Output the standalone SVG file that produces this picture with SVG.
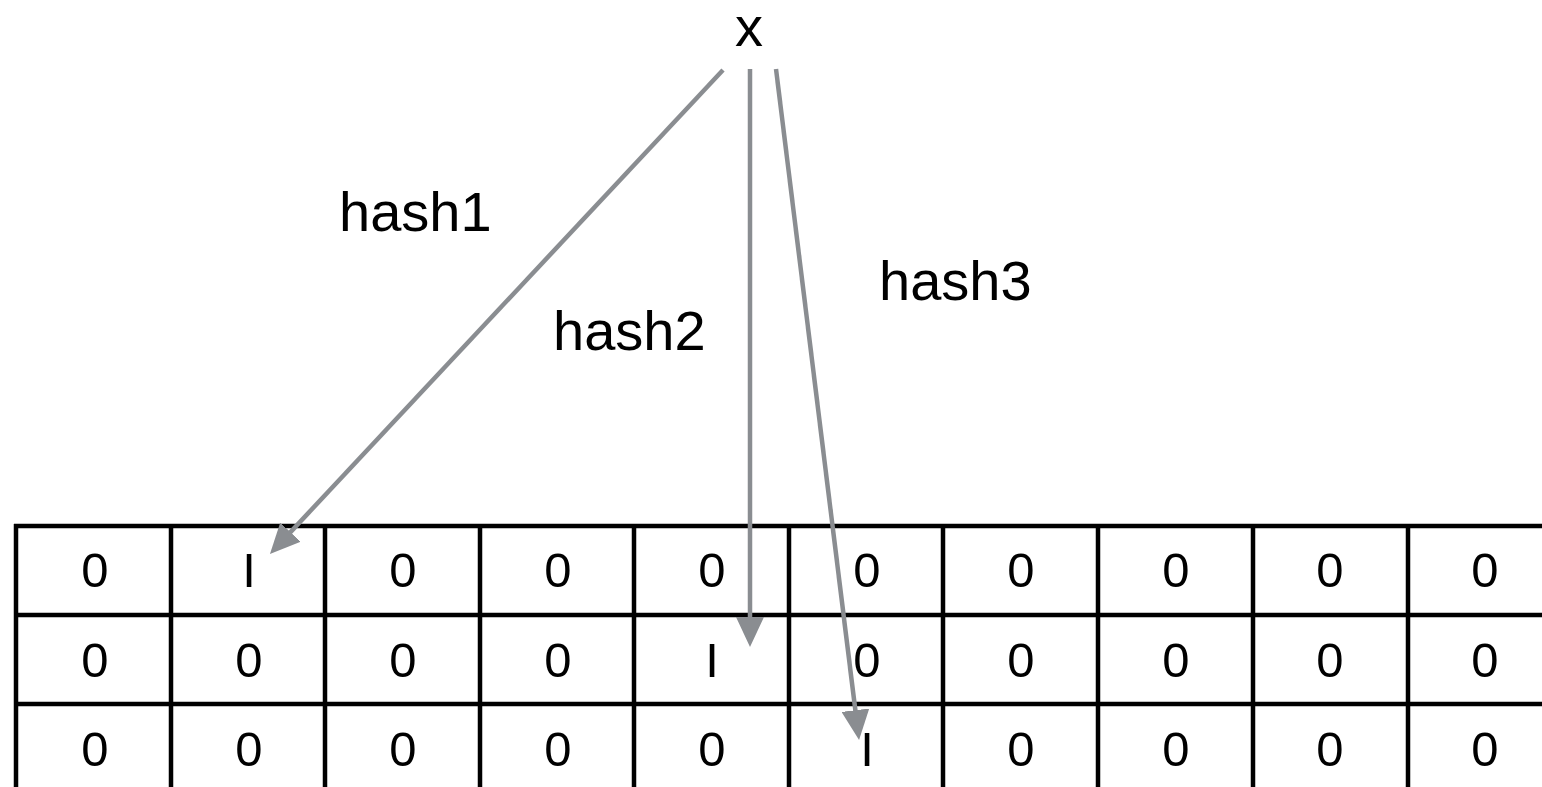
<svg xmlns="http://www.w3.org/2000/svg" width="1542" height="787" viewBox="0 0 1542 787">
<style>
.g{stroke:#000;stroke-width:4.5;fill:none}
.c{font-family:"Liberation Sans",Arial,sans-serif;font-size:49px;fill:#000;text-anchor:middle}
.lbl{font-family:"Liberation Sans",Arial,sans-serif;font-size:56px;fill:#000}
.a{stroke:#8a8d91;stroke-width:4.5;fill:none}
</style>
<defs>
<marker id="ah" markerUnits="userSpaceOnUse" markerWidth="30" markerHeight="28" refX="15" refY="14" orient="auto">
<path d="M0,0 L30,14 L0,28 z" fill="#8a8d91"/>
</marker>
</defs>
<rect width="1542" height="787" fill="#fff"/>
<g id="grid">
<line class="g" x1="14" y1="526" x2="1542" y2="526"/>
<line class="g" x1="14" y1="615" x2="1542" y2="615"/>
<line class="g" x1="14" y1="704" x2="1542" y2="704"/>
<line class="g" x1="16" y1="524" x2="16" y2="787"/>
<line class="g" x1="171" y1="524" x2="171" y2="787"/>
<line class="g" x1="325" y1="524" x2="325" y2="787"/>
<line class="g" x1="480" y1="524" x2="480" y2="787"/>
<line class="g" x1="634" y1="524" x2="634" y2="787"/>
<line class="g" x1="789" y1="524" x2="789" y2="787"/>
<line class="g" x1="943" y1="524" x2="943" y2="787"/>
<line class="g" x1="1098" y1="524" x2="1098" y2="787"/>
<line class="g" x1="1253" y1="524" x2="1253" y2="787"/>
<line class="g" x1="1408" y1="524" x2="1408" y2="787"/>
</g>
<g id="row1">
<text class="c" x="95" y="587">0</text>
<text class="c" x="249" y="587">I</text>
<text class="c" x="403" y="587">0</text>
<text class="c" x="558" y="587">0</text>
<text class="c" x="712" y="587">0</text>
<text class="c" x="867" y="587">0</text>
<text class="c" x="1021" y="587">0</text>
<text class="c" x="1176" y="587">0</text>
<text class="c" x="1330" y="587">0</text>
<text class="c" x="1485" y="587">0</text>
</g>
<g id="row2">
<text class="c" x="95" y="677">0</text>
<text class="c" x="249" y="677">0</text>
<text class="c" x="403" y="677">0</text>
<text class="c" x="558" y="677">0</text>
<text class="c" x="712" y="677">I</text>
<text class="c" x="867" y="677">0</text>
<text class="c" x="1021" y="677">0</text>
<text class="c" x="1176" y="677">0</text>
<text class="c" x="1330" y="677">0</text>
<text class="c" x="1485" y="677">0</text>
</g>
<g id="row3">
<text class="c" x="95" y="766">0</text>
<text class="c" x="249" y="766">0</text>
<text class="c" x="403" y="766">0</text>
<text class="c" x="558" y="766">0</text>
<text class="c" x="712" y="766">0</text>
<text class="c" x="867" y="766">I</text>
<text class="c" x="1021" y="766">0</text>
<text class="c" x="1176" y="766">0</text>
<text class="c" x="1330" y="766">0</text>
<text class="c" x="1485" y="766">0</text>
</g>
<g id="x"><text class="lbl" x="749" y="46" text-anchor="middle" font-size="56">x</text></g>
<g id="connectors">
<line class="a" x1="723" y1="70" x2="280.2" y2="543.1" marker-end="url(#ah)"/>
<line class="a" x1="750" y1="69" x2="750" y2="632" marker-end="url(#ah)"/>
<line class="a" x1="776" y1="69" x2="857.2" y2="725.1" marker-end="url(#ah)"/>
</g>
<g id="labels">
<text class="lbl" x="339" y="231">hash1</text>
<text class="lbl" x="553" y="350">hash2</text>
<text class="lbl" x="879" y="300">hash3</text>
</g>
</svg>
